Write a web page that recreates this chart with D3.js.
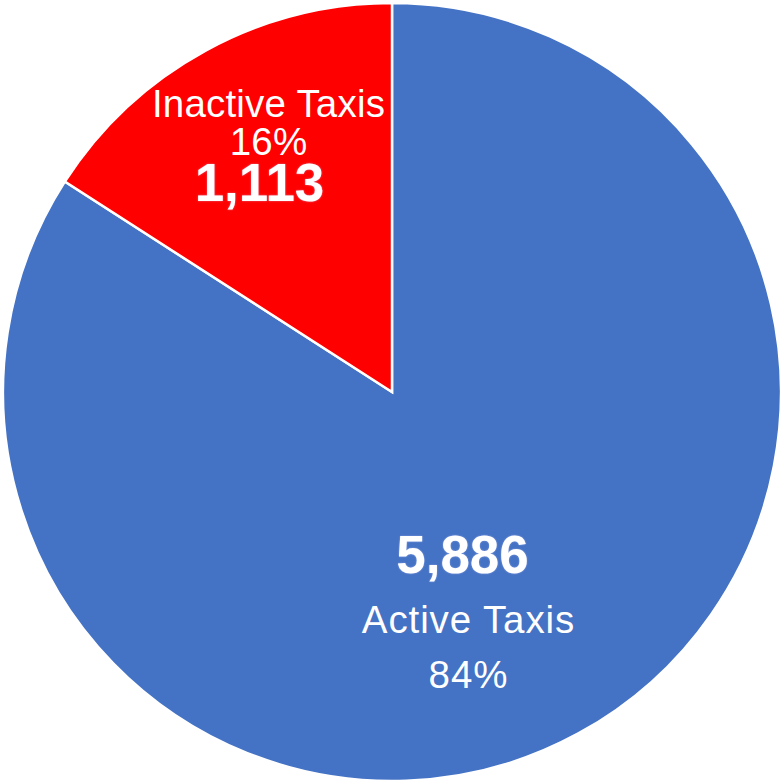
<!DOCTYPE html>
<html><head><meta charset="utf-8">
<script src="https://cdn.jsdelivr.net/npm/d3@7"></script>
<style>html,body{margin:0;padding:0;background:#fff;}svg{display:block;}</style>
</head><body>
<svg id="chart" width="783" height="782"></svg>
<script>
const categories = ["Active Taxis", "Inactive Taxis"];
const values = [5886, 1113];
const colors = ["#4472C4", "#FF0000"];

const W = 783, H = 782;
const cx = 392, cy = 392, R = 389;
const svg = d3.select("#chart");
const g = svg.append("g").attr("transform", `translate(${cx},${cy})`);

const data = categories.map((c, i) => ({ name: c, value: values[i], color: colors[i] }));
const total = d3.sum(values);
const pie = d3.pie().sort(null).value(d => d.value).startAngle(0).endAngle(2 * Math.PI);
const arcs = pie(data);
const arc = d3.arc().innerRadius(0).outerRadius(R);

g.selectAll("path.slice").data(arcs).enter().append("path")
  .attr("class", "slice")
  .attr("d", arc)
  .attr("fill", d => d.data.color)
  .attr("stroke", "#fff")
  .attr("stroke-width", 2.5)
  .attr("stroke-linejoin", "miter");

const fmt = d3.format(",");
const pct = v => Math.round(v / total * 100) + "%";

const layout = {
  "Inactive Taxis": { r: 262, dx: 2, order: ["name", "pct", "value"], dy: [-45, -7, 39], vdx: -9 },
  "Active Taxis": { r: 239, dx: -38, order: ["value", "name", "pct"], dy: [-29, 31, 86], vdx: -6 }
};

arcs.forEach(a => {
  const L = layout[a.data.name];
  const la = d3.arc().innerRadius(L.r).outerRadius(L.r);
  const [x, y] = la.centroid(a);
  const grp = g.append("g").attr("transform", `translate(${x + L.dx},${y})`);
  L.order.forEach((k, i) => {
    const t = grp.append("text")
      .attr("text-anchor", "middle")
      .attr("y", L.dy[i])
      .attr("fill", "#fff");
    if (k === "value") {
      t.text(fmt(a.data.value))
        .attr("x", L.vdx)
        .attr("font-family", "'Liberation Sans', Arial, sans-serif")
        .attr("font-weight", "bold")
        .attr("font-size", 53)
        .style("text-shadow", "0 0 2px rgba(200,200,255,0.6)");
    } else {
      t.text(k === "name" ? a.data.name : pct(a.data.value))
        .attr("font-family", "'Liberation Sans', Arial, sans-serif")
        .attr("font-size", 38.5)
        .attr("letter-spacing", a.data.name === "Active Taxis" ? 0.9 : 0.2);
    }
  });
});
</script>
</body></html>
